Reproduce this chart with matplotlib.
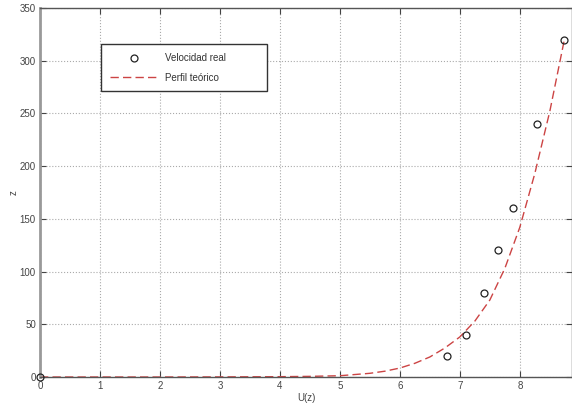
import matplotlib
matplotlib.use('Agg')
import matplotlib.pyplot as plt

# measured wind speed vs height
u_real = [0, 6.78, 7.1, 7.4, 7.63, 7.89, 8.29, 8.73]
z_real = [0, 20, 40, 80, 120, 160, 240, 320]

# theoretical profile
u_teo = [0, 1, 2, 3, 4, 4.5, 5, 5.5, 5.75, 6, 6.25, 6.5, 6.75, 7, 7.25,
         7.5, 7.75, 8, 8.25, 8.5, 8.75]
z_teo = [0, 0, 0, 0.1, 0.3, 0.6, 1.2, 3.5, 5.5, 8.5, 13, 19, 27.5, 38, 53,
         73, 103, 142, 193, 252, 322]

x_ticks = [0, 1, 2, 3, 4, 5, 6, 7, 8]
y_ticks = [0, 50, 100, 150, 200, 250, 300, 350]

plt.rcParams['font.family'] = 'Liberation Sans'

fig = plt.figure(figsize=(5.72, 4.03), dpi=100)
ax = fig.add_axes([40/572, 26/403, 532/572, 369/403])

ax.plot(u_real, z_real, 'o', mfc='none', mec='#222222', ms=5, mew=0.9,
        label='Velocidad real', clip_on=False, zorder=5)
ax.plot(u_teo, z_teo, '--', color='#cc4444', lw=1.0, dashes=(6, 3),
        label='Perfil teórico')

ax.set_xlim(0, 8.87)
ax.set_ylim(0, 350)
ax.set_xticks(x_ticks)
ax.set_yticks(y_ticks)
ax.grid(True, linestyle=':', color='#aaaaaa', lw=0.8)
ax.tick_params(direction='in', length=4, labelsize=7, colors='#444444',
               top=True, right=True, pad=3)
for s in ax.spines.values():
    s.set_color('#555555')
    s.set_linewidth(1.0)
ax.spines['left'].set_color('#999999')
ax.spines['left'].set_linewidth(2)

ax.set_xlabel('U(z)', fontsize=7, color='#444444', labelpad=1)
ax.set_ylabel('z', fontsize=7, color='#444444', labelpad=1)

leg = ax.legend(loc='upper left', bbox_to_anchor=(0.115, 0.902 - 0.122, 0.312, 0.122),
                mode='expand', fontsize=7,
                fancybox=False, framealpha=1, edgecolor='#333333',
                handlelength=5.0, borderpad=0.9, labelspacing=1.0,
                handletextpad=0.7, borderaxespad=0)
for t in leg.get_texts():
    t.set_color('#333333')

fig.savefig('out.png', dpi=100)
